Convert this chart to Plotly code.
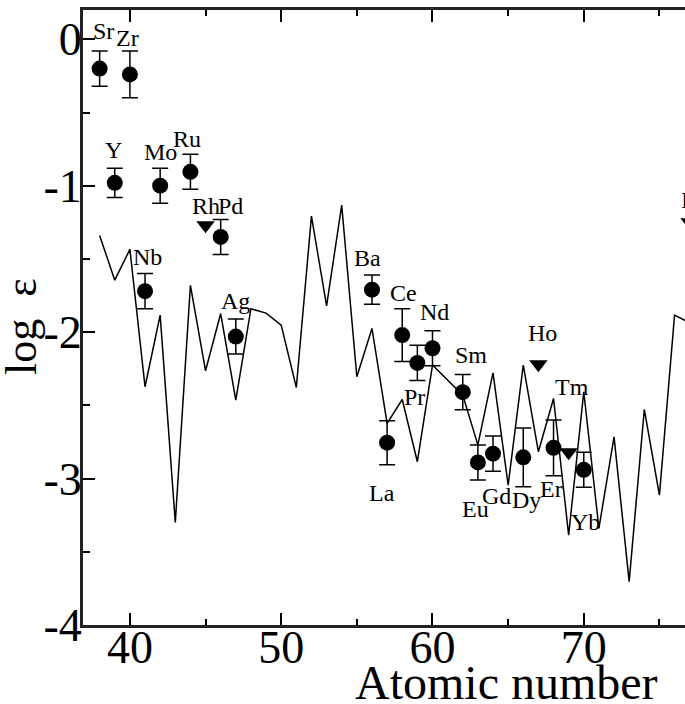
import plotly.graph_objects as go

# ---------------- data ----------------
# scaled solar r-process pattern (line)
line_z = [38, 39, 40, 41, 42, 43, 44, 45, 46, 47, 48, 49, 50, 51, 52, 53, 54, 55, 56, 57,
          58, 59, 60, 62, 63, 64, 65, 66, 67, 68, 69, 70, 71, 72, 73, 74, 75, 76, 77]
line_logeps = [-1.34, -1.645, -1.435, -2.373, -1.884, -3.30, -1.68, -2.264, -1.873, -2.464,
               -1.84, -1.87, -1.952, -2.378, -1.208, -1.82, -1.133, -2.305, -1.975, -2.623,
               -2.46, -2.885, -2.225, -2.43, -2.77, -2.278, -3.045, -2.225, -2.817, -2.453,
               -3.386, -2.407, -3.34, -2.715, -3.704, -2.528, -3.113, -1.884, -1.935]

# measured abundances
meas_el = ["Sr", "Y", "Zr", "Nb", "Mo", "Ru", "Pd", "Ag", "Ba", "La", "Ce", "Pr", "Nd",
           "Sm", "Eu", "Gd", "Dy", "Er", "Yb"]
meas_z = [38, 39, 40, 41, 42, 44, 46, 47, 56, 57, 58, 59, 60, 62, 63, 64, 66, 68, 70]
meas_logeps = [-0.20, -0.98, -0.24, -1.72, -1.00, -0.905, -1.35, -2.03, -1.71, -2.755,
               -2.02, -2.21, -2.11, -2.41, -2.89, -2.83, -2.855, -2.79, -2.94]
meas_err = [0.12, 0.10, 0.16, 0.12, 0.12, 0.12, 0.12, 0.12, 0.10, 0.15,
            0.18, 0.12, 0.12, 0.12, 0.12, 0.12, 0.20, 0.19, 0.12]

# upper limits
lim_el = ["Rh", "Ho", "Tm", "Ir"]
lim_z = [45, 67, 69, 77]
lim_logeps = [-1.27, -2.22, -2.82, -1.25]

x_ticks = [40, 50, 60, 70]
y_ticks = [0, -1, -2, -3, -4]
y_ticktext = ["0", "-1", "-2", "-3", "-4"]

# ---------------- style ----------------
FONT = "Liberation Serif"
X_RANGE = [36.9, 76.69]
Y_RANGE = [-4, 0.2]
# label pixel offsets (dx, dy up)
LABEL_SHIFT = {
    "Sr": (4, 38), "Zr": (-2, 36), "Y": (-1, 33), "Nb": (2, 34), "Mo": (0, 34),
    "Ru": (-3, 33), "Rh": (0, 19), "Pd": (10, 31), "Ag": (0, 36), "Ba": (-4, 32),
    "La": (-5, -50), "Ce": (1, 42), "Pr": (-3, -34), "Nd": (2, 36), "Sm": (8, 37),
    "Eu": (-2, -47), "Gd": (3, -42), "Dy": (3, -43), "Ho": (4, 31), "Er": (-2, -41),
    "Tm": (3, 65), "Yb": (2, -52), "Ir": (9, 22),
}

fig = go.Figure()
fig.add_trace(go.Scatter(x=line_z, y=line_logeps, mode="lines",
                         line=dict(color="black", width=1.5), showlegend=False))
fig.add_trace(go.Scatter(x=meas_z, y=meas_logeps, mode="markers",
                         marker=dict(symbol="circle", size=16, color="black"),
                         error_y=dict(type="data", array=meas_err, visible=True,
                                      color="black", thickness=1.5, width=8),
                         showlegend=False))
fig.add_trace(go.Scatter(x=lim_z, y=lim_logeps, mode="markers",
                         marker=dict(symbol="triangle-down", size=16, color="black"),
                         showlegend=False))

for el, z, v in list(zip(meas_el, meas_z, meas_logeps)) + list(zip(lim_el, lim_z, lim_logeps)):
    dx, dy = LABEL_SHIFT[el]
    if X_RANGE[0] <= z <= X_RANGE[1]:
        fig.add_annotation(x=z, y=v, xref="x", yref="y", text=el, showarrow=False,
                           xshift=dx, yshift=dy,
                           font=dict(family=FONT, size=24, color="black"))
    else:
        # element just beyond the visible axis range: place via paper coordinates
        px = (z - X_RANGE[0]) / (X_RANGE[1] - X_RANGE[0])
        py = (v - Y_RANGE[0]) / (Y_RANGE[1] - Y_RANGE[0])
        fig.add_annotation(x=px, y=py, xref="paper", yref="paper", text=el, showarrow=False,
                           xshift=dx, yshift=dy,
                           font=dict(family=FONT, size=24, color="black"))

fig.add_annotation(x=0.704, y=-0.094, xref="paper", yref="paper", text="Atomic number",
                   showarrow=False, xanchor="center", yanchor="middle",
                   font=dict(family=FONT, size=48, color="black"))
fig.add_annotation(x=-0.101, y=0.485, xref="paper", yref="paper", text="log  ε",
                   showarrow=False, textangle=-90, xanchor="center", yanchor="middle",
                   font=dict(family=FONT, size=44, color="black"))

fig.update_xaxes(range=X_RANGE, tickvals=x_ticks, ticks="inside", ticklen=12,
                 tickwidth=1.5, tickcolor="black", showline=True, linewidth=3,
                 linecolor="#222", mirror="ticks", showgrid=False, zeroline=False,
                 ticklabelstandoff=-20,
                 minor=dict(dtick=5, ticks="inside", ticklen=6, tickwidth=1.5,
                            tickcolor="black", showgrid=False),
                 tickfont=dict(family=FONT, size=46, color="black"))
fig.update_yaxes(range=Y_RANGE, tickvals=y_ticks, ticktext=y_ticktext, ticks="inside",
                 ticklen=12, tickwidth=1.5, tickcolor="black", showline=True, linewidth=3,
                 linecolor="#222", mirror=False, showgrid=False, zeroline=False,
                 ticklabelstandoff=-11,
                 minor=dict(dtick=0.5, ticks="inside", ticklen=7, tickwidth=1.5,
                            tickcolor="black", showgrid=False),
                 tickfont=dict(family=FONT, size=46, color="black"))

fig.update_layout(width=685, height=704, margin=dict(l=83, r=0, t=10, b=79),
                  plot_bgcolor="white", paper_bgcolor="white")
fig.write_html("out.html")
